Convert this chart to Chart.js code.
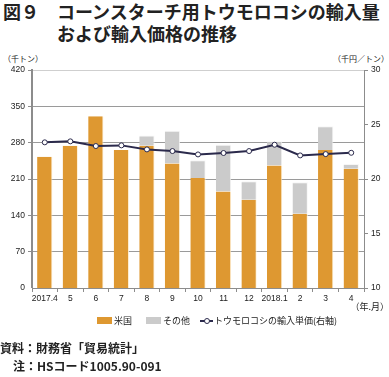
<!DOCTYPE html>
<html lang="ja">
<head>
<meta charset="utf-8">
<script src="https://cdn.jsdelivr.net/npm/chart.js@4"></script>
<style>
	body { margin: 0; width: 389px; height: 377px; background: #fff; position: relative; overflow: hidden;
		font-family: "Liberation Sans", "Noto Sans CJK JP", sans-serif; color: #222; }
	.title { position: absolute; left: 3px; top: 0; font-family: "Noto Sans CJK JP"; font-weight: bold;
		font-size: 18px; line-height: 22px; letter-spacing: 0; white-space: nowrap; }
	.title .l2 { padding-left: 54px; }
	.unit { position: absolute; top: 53px; font-size: 8px; font-family: "Noto Sans CJK JP"; white-space: nowrap; }
	#chart-box { position: absolute; left: 0; top: 62px; width: 389px; height: 250px; }
	.legend { position: absolute; top: 314px; left: 97px; font-size: 9px; font-family: "Noto Sans CJK JP";
		display: flex; align-items: center; white-space: nowrap; }
	.legend .sw { display: inline-block; width: 15px; height: 7px; margin-right: 2px; }
	.legend .ln { display: inline-block; position: relative; width: 13px; height: 8px; margin-right: 1px; }
	.legend .ln::before { content: ""; position: absolute; left: 0; right: 0; top: 3px; height: 2px; background: #2b2a4c; }
	.legend .ln::after { content: ""; position: absolute; left: 4px; top: 1px; width: 4px; height: 4px; border: 1px solid #2b2a4c;
		border-radius: 50%; background: #fff; }
	.foot { position: absolute; font-family: "Noto Sans CJK JP"; font-size: 12px; font-weight: bold; white-space: nowrap; }
</style>
</head>
<body>
<div class="title">図９　コーンスターチ用トウモロコシの輸入量<br><span class="l2">および輸入価格の推移</span></div>
<div class="unit" style="left:3px">（千トン）</div>
<div class="unit" style="right:0">（千円／トン）</div>
<div id="chart-box"><canvas id="chart-corn"></canvas></div>
<div class="unit" style="right:0; top:300px; font-size:9px">（年.月）</div>
<div class="legend">
	<span class="sw" style="background:#de9831"></span><span style="margin-right:14px">米国</span>
	<span class="sw" style="background:#cbcbcb"></span><span style="margin-right:10px">その他</span>
	<span class="ln"></span><span>トウモロコシの輸入単価(右軸)</span>
</div>
<div class="foot" style="left:0; top:339px">資料：財務省「貿易統計」</div>
<div class="foot" style="left:13px; top:357px">注：HSコード1005.90-091</div>

<script>
// Chart data
const MONTHS = ["2017.4", "5", "6", "7", "8", "9", "10", "11", "12", "2018.1", "2", "3", "4"];
const US_VOLUME = [253, 274, 331, 266, 274, 240, 212, 186, 170, 236, 143, 266, 230];
const OTHER_VOLUME = [0, 0, 0, 0, 20, 63, 34, 90, 36, 47, 61, 46, 9];
const UNIT_PRICE = [23.37, 23.46, 23.03, 23.09, 22.72, 22.57, 22.26, 22.39, 22.57, 23.15, 22.17, 22.29, 22.41];
const LEFT_TICKS = [0, 70, 140, 210, 280, 350, 420];
const RIGHT_TICKS = [10, 15, 20, 25, 30];

const ORANGE = "#de9831";
const GREY = "#cbcbcb";
const NAVY = "#2b2a4c";
const TICK_FONT = { family: "Liberation Sans", size: 8.5 };

const CHART_CONFIG = {
	data: {
		labels: MONTHS,
		datasets: [
			{
				type: "line",
				label: "トウモロコシの輸入単価(右軸)",
				data: UNIT_PRICE,
				yAxisID: "y1",
				borderColor: NAVY,
				borderWidth: 2,
				pointRadius: 2.5,
				pointBackgroundColor: "#fff",
				pointBorderColor: NAVY,
				pointBorderWidth: 1,
				tension: 0,
				order: 0,
			},
			{
				type: "bar",
				label: "米国",
				data: US_VOLUME,
				yAxisID: "y",
				backgroundColor: ORANGE,
				borderColor: "rgba(255,240,210,0.9)",
				borderWidth: { left: 0, right: 1, top: 0, bottom: 0 },
				borderSkipped: false,
				barPercentage: 0.6,
				categoryPercentage: 1,
				order: 1,
			},
			{
				type: "bar",
				label: "その他",
				data: OTHER_VOLUME,
				yAxisID: "y",
				backgroundColor: GREY,
				borderColor: "rgba(245,245,245,0.9)",
				borderWidth: { left: 0, right: 1, top: 1, bottom: 0 },
				borderSkipped: false,
				barPercentage: 0.6,
				categoryPercentage: 1,
				order: 1,
			},
		],
	},
	options: {
		responsive: true,
		maintainAspectRatio: false,
		animation: false,
		layout: { padding: { top: 8, left: 0, right: 0, bottom: 0 } },
		plugins: {
			legend: { display: false },
			title: { display: false },
			tooltip: { enabled: false },
		},
		scales: {
			x: {
				stacked: true,
				offset: true,
				afterFit: (s) => { s.height = 24; },
				border: { display: true, color: "#8c8c8c", width: 1 },
				grid: { display: true, offset: true, drawOnChartArea: false, drawTicks: true, tickLength: 4, color: "#8c8c8c" },
				ticks: { font: TICK_FONT, color: "#222", padding: 2, maxRotation: 0, autoSkip: false },
			},
			y: {
				stacked: true,
				position: "left",
				min: 0,
				max: 420,
				afterFit: (s) => { s.width = 32; },
				afterBuildTicks: (s) => { s.ticks = LEFT_TICKS.map((v) => ({ value: v })); },
				border: { display: true, color: "#8c8c8c", width: 2 },
				grid: {
					color: (c) => (c.tick && c.tick.value === 420 ? "#cfcfcf" : "#9a9a9a"),
					lineWidth: (c) => (c.tick && c.tick.value === 0 ? 0 : 1),
					tickLength: 4,
					tickColor: "#8c8c8c",
				},
				ticks: { font: TICK_FONT, color: "#222", padding: 3 },
			},
			y1: {
				position: "right",
				min: 10,
				max: 30,
				afterFit: (s) => { s.width = 25; },
				afterBuildTicks: (s) => { s.ticks = RIGHT_TICKS.map((v) => ({ value: v })); },
				border: { display: true, color: "#8c8c8c", width: 1 },
				grid: { drawOnChartArea: false, tickLength: 4, color: "#8c8c8c" },
				ticks: { font: TICK_FONT, color: "#222", padding: 3 },
			},
		},
	},
};

const CHART_WRAPPER = document.getElementById("chart-corn");
if (CHART_WRAPPER) {
	new Chart(CHART_WRAPPER, CHART_CONFIG);
}
</script>
</body>
</html>
